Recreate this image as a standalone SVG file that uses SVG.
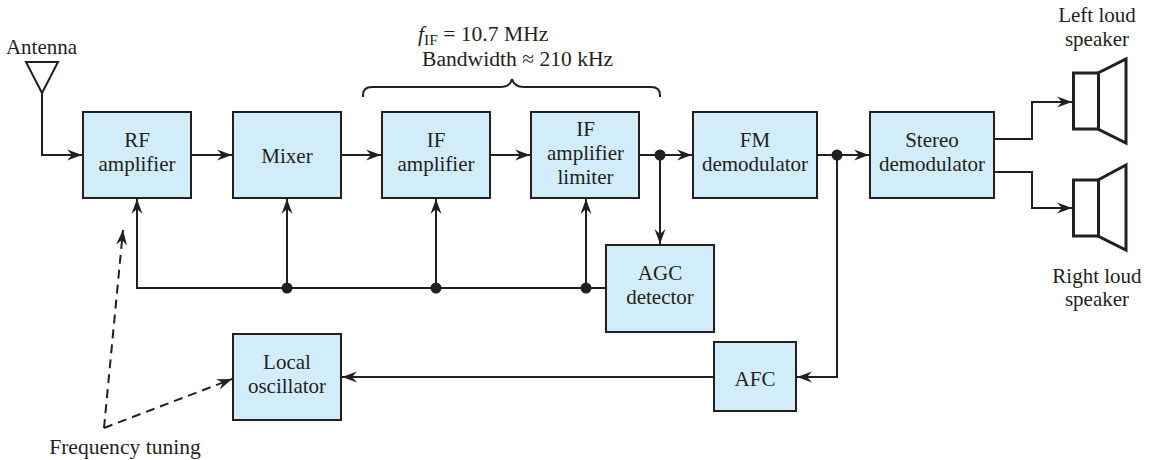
<svg xmlns="http://www.w3.org/2000/svg" width="1154" height="460" viewBox="0 0 1154 460">
<style>
text{font-family:"Liberation Serif","Times New Roman",serif;font-size:21px;fill:#231f20}
.c{text-anchor:middle}
.w{font-size:21.600px}
.box{fill:#d2edfa;stroke:#231f20;stroke-width:2}
.ln{fill:none;stroke:#231f20;stroke-width:2}
.sp{fill:#fff;stroke:#231f20;stroke-width:3}
.dot{fill:#231f20}
</style>
<defs>
<marker id="a" markerUnits="userSpaceOnUse" markerWidth="18" markerHeight="14" refX="15.5" refY="7" orient="auto" viewBox="0 0 18 14">
<path d="M15.5 7 L0.5 1.5 L5.5 7 L0.5 12.5 Z" fill="#231f20"/>
</marker>
</defs>
<rect width="1154" height="460" fill="#fff"/>
<g id="connectors">
<path class="ln" d="M42 93V155H82" marker-end="url(#a)"/>
<path class="ln" d="M191 155H232" marker-end="url(#a)"/>
<path class="ln" d="M341 155H381" marker-end="url(#a)"/>
<path class="ln" d="M490 155H530" marker-end="url(#a)"/>
<path class="ln" d="M639 155H692" marker-end="url(#a)"/>
<path class="ln" d="M817 155H869" marker-end="url(#a)"/>
<path class="ln" d="M660 155V244" marker-end="url(#a)"/>
<path class="ln" d="M606 288H137V199" marker-end="url(#a)"/>
<path class="ln" d="M287 288V199" marker-end="url(#a)"/>
<path class="ln" d="M436 288V199" marker-end="url(#a)"/>
<path class="ln" d="M586 288V199" marker-end="url(#a)"/>
<path class="ln" d="M837 155V377H797" marker-end="url(#a)"/>
<path class="ln" d="M714 377H342" marker-end="url(#a)"/>
<path class="ln" d="M994 139H1032V102H1072" marker-end="url(#a)"/>
<path class="ln" d="M994 172H1032V208H1072" marker-end="url(#a)"/>
<path class="ln" stroke-dasharray="9 6" d="M104 428L123 230" marker-end="url(#a)"/>
<path class="ln" stroke-dasharray="9 6" d="M104 428L232 379" marker-end="url(#a)"/>
<circle class="dot" cx="660" cy="155" r="5.5"/>
<circle class="dot" cx="837" cy="155" r="5.5"/>
<circle class="dot" cx="287" cy="288" r="5.5"/>
<circle class="dot" cx="436" cy="288" r="5.5"/>
<circle class="dot" cx="586" cy="288" r="5.5"/>
</g>
<g id="antenna">
<path class="ln" d="M26 62H58L42 93Z"/>
<text class="c" x="41.500" y="54">Antenna</text>
</g>
<g id="rf-amplifier"><rect class="box" x="83" y="112" width="108" height="86"/><text class="c" x="137" y="147">RF</text><text class="c" x="137" y="171">amplifier</text></g>
<g id="mixer"><rect class="box" x="233" y="112" width="108" height="86"/><text class="c" x="287" y="163">Mixer</text></g>
<g id="if-amplifier"><rect class="box" x="382" y="112" width="108" height="86"/><text class="c" x="436" y="147">IF</text><text class="c" x="436" y="171">amplifier</text></g>
<g id="if-limiter"><rect class="box" x="531" y="112" width="108" height="86"/><text class="c" x="585.500" y="136">IF</text><text class="c" x="585.500" y="160">amplifier</text><text class="c" x="585.500" y="184">limiter</text></g>
<g id="fm-demodulator"><rect class="box" x="693" y="112" width="124" height="86"/><text class="c" x="755" y="147">FM</text><text class="c" x="755" y="171">demodulator</text></g>
<g id="stereo-demodulator"><rect class="box" x="870" y="112" width="124" height="86"/><text class="c" x="932" y="147">Stereo</text><text class="c" x="932" y="171">demodulator</text></g>
<g id="agc-detector"><rect class="box" x="606" y="245" width="108" height="87"/><text class="c" x="660" y="280">AGC</text><text class="c" x="660" y="304">detector</text></g>
<g id="afc"><rect class="box" x="714" y="342" width="82" height="69"/><text class="c" x="755" y="386">AFC</text></g>
<g id="local-oscillator"><rect class="box" x="233" y="334" width="108" height="86"/><text class="c" x="287" y="369">Local</text><text class="c" x="287" y="393">oscillator</text></g>
<g id="left-speaker">
<path class="sp" d="M1098 73L1126 59V143L1098 129Z"/><rect class="sp" x="1073.500" y="73" width="25" height="56"/>
<text class="c" x="1097" y="22">Left loud</text><text class="c" x="1097" y="46">speaker</text>
</g>
<g id="right-speaker">
<path class="sp" d="M1098 180L1126 165V250L1098 236Z"/><rect class="sp" x="1073.500" y="180" width="25" height="56"/>
<text class="c" x="1097" y="283">Right loud</text><text class="c" x="1097" y="306">speaker</text>
</g>
<g id="if-note">
<path class="ln" d="M363 97V95Q363 87 372 87H500Q510 87 512 79Q514 87 524 87H651Q660 87 660 95V97"/>
<text class="w" x="418" y="41"><tspan font-style="italic">f</tspan><tspan font-size="15.500" dy="4">IF</tspan><tspan dy="-4"> = 10.7 MHz</tspan></text>
<text class="w" x="422" y="66">Bandwidth ≈ 210 kHz</text>
</g>
<g id="frequency-tuning"><text class="c w" x="125" y="454">Frequency tuning</text></g>
</svg>
